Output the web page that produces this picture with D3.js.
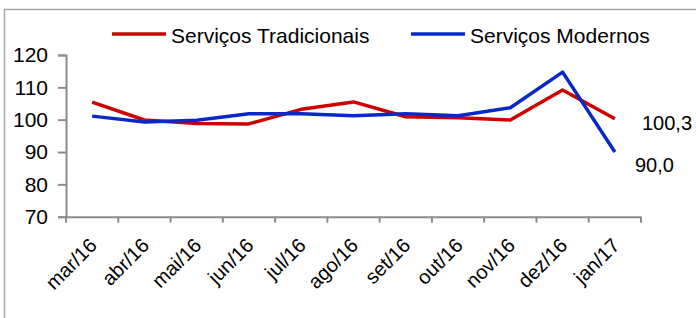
<!DOCTYPE html>
<html>
<head>
<meta charset="utf-8">
<script src="https://cdn.jsdelivr.net/npm/d3@7"></script>
<style>
  body { margin: 0; background: #fff; }
  svg { display: block; font-family: "Liberation Sans", Arial, sans-serif; }
</style>
</head>
<body>
<svg width="696" height="318"></svg>
<script>
// data
var months = ["mar/16", "abr/16", "mai/16", "jun/16", "jul/16", "ago/16", "set/16", "out/16", "nov/16", "dez/16", "jan/17"];
var tradicionais = [105.4, 99.9, 98.8, 98.7, 103.2, 105.5, 100.9, 100.6, 99.9, 109.2, 100.3];
var modernos = [101.1, 99.3, 99.8, 101.8, 101.8, 101.2, 101.8, 101.2, 103.7, 114.7, 90.0];
var yTicks = [70, 80, 90, 100, 110, 120];
var seriesNames = ["Serviços Tradicionais", "Serviços Modernos"];

var svg = d3.select("svg");

// outer frame (cut off on the right and bottom)
svg.append("rect")
  .attr("x", 4.5).attr("y", 9.5)
  .attr("width", 800).attr("height", 400)
  .attr("fill", "none")
  .attr("stroke", "#a6a6a6")
  .attr("stroke-width", 1.5);

var x = d3.scaleBand()
  .domain(months)
  .range([66, 641]);

var y = d3.scaleLinear()
  .domain([70, 120])
  .range([216.7, 55]);

var axisColor = "#8c8c8c";

// y axis
var gy = svg.append("g")
  .attr("transform", "translate(66,0)")
  .call(d3.axisLeft(y).tickValues(yTicks).tickSize(8).tickPadding(10));
gy.selectAll("path, line").attr("stroke", axisColor).attr("stroke-width", 2);
gy.selectAll("text").attr("font-size", 21).attr("fill", "#000").attr("font-family", "Liberation Sans, Arial");

// x axis
var gx = svg.append("g")
  .attr("transform", "translate(0," + y(70) + ")")
  .call(d3.axisBottom(x).tickSize(0).tickSizeOuter(0).tickFormat(""));
gx.select(".domain").attr("stroke", axisColor).attr("stroke-width", 2);
gx.selectAll(".tick").remove();

// tick marks at band edges
var edges = months.map(function(m) { return x(m); }).concat([x.range()[1]]);
gx.selectAll("line.edge")
  .data(edges)
  .enter().append("line")
  .attr("class", "edge")
  .attr("x1", function(d) { return d; })
  .attr("x2", function(d) { return d; })
  .attr("y1", 0).attr("y2", 6)
  .attr("stroke", axisColor)
  .attr("stroke-width", 2);

// rotated month labels
gx.selectAll("text.lbl")
  .data(months)
  .enter().append("text")
  .attr("class", "lbl")
  .attr("transform", function(d) {
    return "translate(" + (x(d) + x.bandwidth() / 2 + 1) + ",25) rotate(-45)";
  })
  .attr("text-anchor", "end")
  .attr("dy", "0.35em")
  .attr("font-size", 20)
  .attr("fill", "#000")
  .text(function(d) { return d; });

var line = d3.line()
  .x(function(d, i) { return x(months[i]) + x.bandwidth() / 2; })
  .y(function(d) { return y(d); });

svg.append("path")
  .datum(tradicionais)
  .attr("fill", "none")
  .attr("stroke", "#cc0000")
  .attr("stroke-width", 3.5)
  .attr("stroke-linejoin", "round")
  .attr("d", line);

svg.append("path")
  .datum(modernos)
  .attr("fill", "none")
  .attr("stroke", "#0a28c8")
  .attr("stroke-width", 3.5)
  .attr("stroke-linejoin", "round")
  .attr("d", line);

// end value labels
var fmt = function(v) { return v.toFixed(1).replace(".", ","); };
svg.append("text")
  .attr("x", 642).attr("y", 130)
  .attr("font-size", 20)
  .text(fmt(tradicionais[tradicionais.length - 1]));
svg.append("text")
  .attr("x", 635).attr("y", 172)
  .attr("font-size", 20)
  .text(fmt(modernos[modernos.length - 1]));

// legend
var legend = [
  { name: seriesNames[0], color: "#cc0000", x: 112 },
  { name: seriesNames[1], color: "#0a28c8", x: 411 }
];
var lg = svg.selectAll("g.legend")
  .data(legend)
  .enter().append("g")
  .attr("class", "legend")
  .attr("transform", function(d) { return "translate(" + d.x + ",34)"; });
lg.append("line")
  .attr("x1", 0).attr("x2", 54)
  .attr("stroke", function(d) { return d.color; })
  .attr("stroke-width", 3.5);
lg.append("text")
  .attr("x", 59).attr("y", 9)
  .attr("font-size", 21)
  .text(function(d) { return d.name; });
</script>
</body>
</html>
